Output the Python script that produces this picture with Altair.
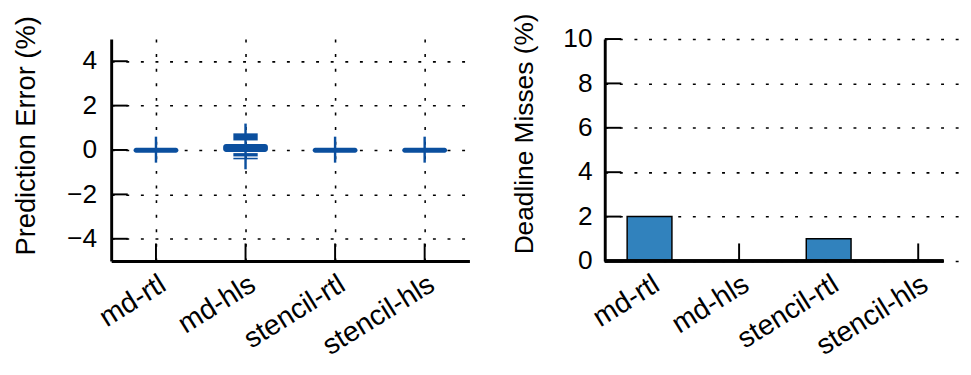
import altair as alt
import pandas as pd

categories = ["md-rtl", "md-hls", "stencil-rtl", "stencil-hls"]

# Prediction error box-like glyphs (%)
whisker_low = [-0.57, -0.87, -0.57, -0.57]
whisker_high = [0.60, 1.19, 0.60, 0.60]
wide_low = [-0.12, -0.09, -0.12, -0.12]
wide_high = [0.10, 0.27, 0.10, 0.10]
narrow_cat = ["md-hls", "md-hls", "md-hls"]
narrow_low = [0.43, -0.29, -0.42]
narrow_high = [0.75, -0.14, -0.35]

# Deadline misses (%)
deadline_misses = [2, 0, 1, 0]

pe_ticks = [-4, -2, 0, 2, 4]
dm_ticks = [2, 4, 6, 8, 10]

BLUE = "#0b4f9e"
BAR = "#3182bd"
FONT = "Liberation Sans"
H = 228
WR = 348

df_wh = pd.DataFrame({"cat": categories, "lo": whisker_low, "hi": whisker_high})
df_wide = pd.DataFrame({"cat": categories, "lo": wide_low, "hi": wide_high})
df_nar = pd.DataFrame({"cat": narrow_cat, "lo": narrow_low, "hi": narrow_high})
df_pt = pd.DataFrame({"lo": pe_ticks})
df_cat = pd.DataFrame({"cat": categories})
df_dm = pd.DataFrame({"cat": categories, "lo": deadline_misses})
df_dt = pd.DataFrame({"lo": dm_ticks})

# ---------- left panel ----------
xl_axis = alt.Axis(title=None, labelAngle=-32, grid=True, bandPosition=0.5,
                   labelPadding=9, labelAlign="right", labelBaseline="top",
                   labelFontSize=29)
xl = alt.X("cat:N", sort=categories,
           scale=alt.Scale(domain=categories, paddingInner=0, paddingOuter=0),
           axis=xl_axis)
yl_axis = alt.Axis(title="Prediction Error (%)", values=pe_ticks, grid=True,
                   labelPadding=15, titlePadding=27, titleY=99, titleFontSize=28)
yl_scale = alt.Scale(domain=[-5, 5], nice=False, zero=False)


def yl(field):
    return alt.Y(f"{field}:Q", scale=yl_scale, axis=yl_axis)


whisk = alt.Chart(df_wh).mark_rule(color=BLUE, strokeWidth=2.5).encode(
    x=xl, y=yl("lo"), y2="hi")
wide = alt.Chart(df_wide).mark_bar(size=46, color=BLUE, cornerRadius=3).encode(
    x=xl, y=yl("lo"), y2="hi")
narrow = alt.Chart(df_nar).mark_bar(size=25, color=BLUE).encode(
    x=xl, y=yl("lo"), y2="hi")
ytk_l = alt.Chart(df_pt).mark_rule(color="black", strokeWidth=2).encode(
    x=alt.value(0), x2=alt.value(17), y=yl("lo"))
xtk_l = alt.Chart(df_cat).mark_rule(color="black", strokeWidth=2).encode(
    x=xl, y=alt.value(H), y2=alt.value(H - 18))

left = alt.layer(ytk_l, xtk_l, whisk, wide, narrow).properties(width=368, height=H)

# ---------- right panel ----------
xr_axis = alt.Axis(title=None, labelAngle=-32, grid=False, bandPosition=0.5,
                   labelPadding=9, labelAlign="right", labelBaseline="top",
                   labelFontSize=29, domain=False)
xr = alt.X("cat:N", sort=categories,
           scale=alt.Scale(domain=categories, paddingInner=0, paddingOuter=0,
                           range=[0, 368]),
           axis=xr_axis)
yr_axis = alt.Axis(title="Deadline Misses (%)", values=[0] + dm_ticks, grid=True,
                   labelPadding=13, titlePadding=25, titleY=97, titleFontSize=27)
yr_scale = alt.Scale(domain=[0, 10], nice=False)


def yr(field):
    return alt.Y(f"{field}:Q", scale=yr_scale, axis=yr_axis)


ytk_r = alt.Chart(df_dt).mark_rule(color="black", strokeWidth=2).encode(
    x=alt.value(0), x2=alt.value(17), y=yr("lo"))
xtk_r = alt.Chart(df_cat).mark_rule(color="black", strokeWidth=2).encode(
    x=xr, y=alt.value(H), y2=alt.value(H - 18))
bars = alt.Chart(df_dm).mark_bar(size=46, color=BAR, stroke="black",
                                 strokeWidth=1.5).encode(x=xr, y=yr("lo"))
xdom_r = alt.Chart(df_cat).mark_rule(color="black", strokeWidth=3).encode(
    x=alt.value(0), x2=alt.value(WR), y=alt.value(H))

right = alt.layer(ytk_r, xtk_r, bars, xdom_r).properties(width=WR, height=H)

chart = alt.hconcat(left, right, spacing=42).properties(
    padding={"left": 5, "top": 0, "right": 0, "bottom": 0}
).configure_view(stroke=None).configure_axis(
    labelFont=FONT, labelFontSize=27, labelColor="black",
    titleFont=FONT, titleFontSize=28, titleFontWeight="normal", titleColor="black",
    domainColor="black", domainWidth=3, ticks=False,
    gridColor="black", gridDash=[3, 12], gridWidth=1.6, gridOpacity=1,
)

chart.save("out.html", embed_options={"renderer": "svg", "actions": False})
